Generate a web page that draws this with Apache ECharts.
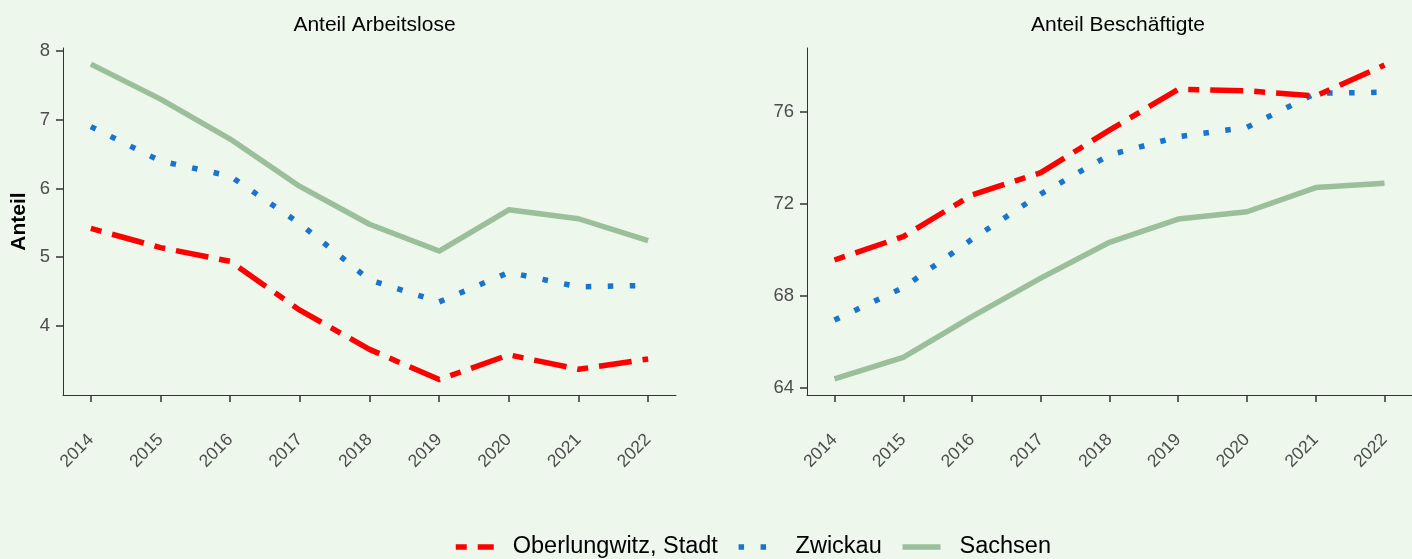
<!DOCTYPE html>
<html>
<head>
<meta charset="utf-8">
<script src="https://cdn.jsdelivr.net/npm/echarts@6/dist/echarts.min.js"></script>
<style>
  html, body { margin: 0; padding: 0; background: #edf7ec; }
  #chart { width: 1412px; height: 559px; }
</style>
</head>
<body>
<div id="chart"></div>
<script>
// Jahre (x-Achse)
const years = [2014, 2015, 2016, 2017, 2018, 2019, 2020, 2021, 2022]

// Anteil Arbeitslose
const oberArbeitslose = [5.42, 5.14, 4.94, 4.23, 3.66, 3.22, 3.58, 3.37, 3.52]
const zwickauArbeitslose = [6.90, 6.40, 6.18, 5.49, 4.67, 4.35, 4.78, 4.57, 4.59]
const sachsenArbeitslose = [7.81, 7.30, 6.72, 6.03, 5.48, 5.09, 5.69, 5.56, 5.24]

// Anteil Beschäftigte
const oberBeschaeftigte = [69.55, 70.57, 72.38, 73.35, 75.20, 76.97, 76.91, 76.68, 78.03]
const zwickauBeschaeftigte = [66.94, 68.35, 70.45, 72.42, 74.12, 74.91, 75.32, 76.80, 76.85]
const sachsenBeschaeftigte = [64.38, 65.32, 67.09, 68.76, 70.32, 71.33, 71.65, 72.70, 72.89]

// Tick-Beschriftungen
const ticksArbeitslose = [4, 5, 6, 7, 8]
const ticksBeschaeftigte = [64, 68, 72, 76]

const seriesNames = ['Oberlungwitz, Stadt', 'Zwickau', 'Sachsen']

const chart = echarts.init(document.getElementById('chart'))

const axisColor = '#333333'
const labelColor = '#4d4d4d'
const font = 'Liberation Sans, Arial, sans-serif'

function pairs(values) {
  return years.map((y, i) => [y, values[i]])
}

function xAxisFor(gridIndex) {
  return {
    type: 'value',
    gridIndex,
    min: 2013.6,
    max: 2022.4,
    axisLine: { show: true, lineStyle: { color: axisColor, width: 1 } },
    axisTick: { show: true, customValues: years, length: 7, lineStyle: { color: axisColor, width: 1.5 } },
    axisLabel: {
      customValues: years,
      rotate: 45,
      margin: 42,
      fontSize: 17.5,
      color: labelColor,
      fontFamily: font,
      formatter: v => String(v)
    },
    splitLine: { show: false }
  }
}

function yAxisFor(gridIndex, min, max, ticks, name) {
  return {
    type: 'value',
    gridIndex,
    min,
    max,
    name,
    nameLocation: 'middle',
    nameRotate: 90,
    nameGap: 33,
    nameTextStyle: { fontSize: 21, fontWeight: 'bold', color: '#000', fontFamily: font },
    axisLine: { show: true, lineStyle: { color: axisColor, width: 1 } },
    axisTick: { show: true, customValues: ticks, length: 7, lineStyle: { color: axisColor, width: 1.5 } },
    axisLabel: {
      customValues: ticks,
      margin: 13,
      fontSize: 18.5,
      color: labelColor,
      fontFamily: font
    },
    splitLine: { show: false }
  }
}

const styles = [
  { color: '#ff0000', type: [11, 11, 33, 11] },
  { color: '#1874cd', type: [5.5, 16.5] },
  { color: '#9bbf9b', type: 'solid' }
]

function lineSeries(idx, values, axisIndex) {
  return {
    name: seriesNames[idx],
    type: 'line',
    xAxisIndex: axisIndex,
    yAxisIndex: axisIndex,
    data: pairs(values),
    symbol: 'none',
    silent: true,
    z: 3 - idx,
    lineStyle: { color: styles[idx].color, width: 5.5, type: styles[idx].type, cap: 'butt', join: 'round' },
    itemStyle: { color: styles[idx].color }
  }
}

const option = {
  backgroundColor: '#edf7ec',
  animation: false,
  title: [
    {
      text: 'Anteil Arbeitslose',
      left: 369.5,
      top: 10,
      textAlign: 'center',
      textStyle: { fontSize: 21, fontWeight: 'normal', color: '#000', fontFamily: font }
    },
    {
      text: 'Anteil Beschäftigte',
      left: 1113,
      top: 10,
      textAlign: 'center',
      textStyle: { fontSize: 21, fontWeight: 'normal', color: '#000', fontFamily: font }
    }
  ],
  legend: {
    data: seriesNames.map((name, i) => ({
      name,
      itemStyle: { opacity: 0 },
      lineStyle: { color: styles[i].color, width: 5.5, type: styles[i].type, cap: 'butt' }
    })),
    left: 453,
    top: 535,
    padding: 0,
    itemWidth: 38,
    itemHeight: 14,
    itemGap: 18,
    textStyle: {
      fontSize: 23.5,
      color: '#000',
      padding: [0, 0, 0, 14],
      fontFamily: font
    }
  },
  grid: [
    { left: 63, top: 48, width: 613, height: 347 },
    { left: 807, top: 48, width: 612, height: 347 }
  ],
  xAxis: [xAxisFor(0), xAxisFor(1)],
  yAxis: [
    yAxisFor(0, 2.996, 8.044, ticksArbeitslose, 'Anteil'),
    yAxisFor(1, 63.68, 78.77, ticksBeschaeftigte, '')
  ],
  series: [
    lineSeries(0, oberArbeitslose, 0),
    lineSeries(1, zwickauArbeitslose, 0),
    lineSeries(2, sachsenArbeitslose, 0),
    lineSeries(0, oberBeschaeftigte, 1),
    lineSeries(1, zwickauBeschaeftigte, 1),
    lineSeries(2, sachsenBeschaeftigte, 1)
  ]
}

chart.setOption(option)
</script>
</body>
</html>
